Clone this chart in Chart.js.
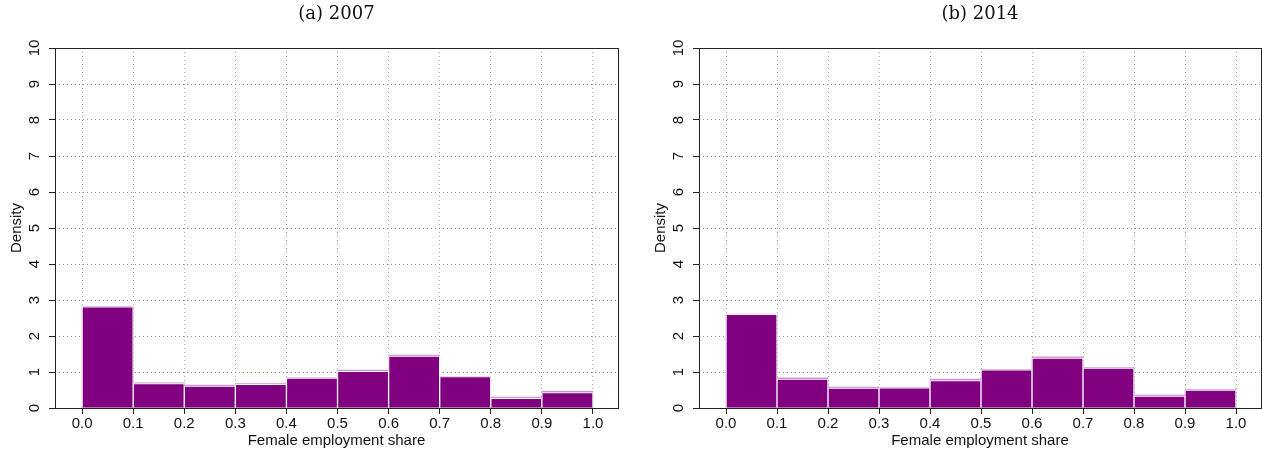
<!DOCTYPE html>
<html>
<head>
<meta charset="utf-8">
<script src="https://cdn.jsdelivr.net/npm/chart.js@4.4.0/dist/chart.umd.min.js"></script>
<style>
body { margin: 0; background: #fff; }
canvas { position: absolute; top: 0; }
#canvas-a { left: 0; }
#canvas-b { left: 631px; }
</style>
</head>
<body>
<canvas id="canvas-a" width="631" height="454"></canvas>
<canvas id="canvas-b" width="631" height="454"></canvas>
<script>
// histogram bins (mid points) and x tick labels
var binMids = [0.05, 0.15, 0.25, 0.35, 0.45, 0.55, 0.65, 0.75, 0.85, 0.95];
var xTicks = [0.0, 0.1, 0.2, 0.3, 0.4, 0.5, 0.6, 0.7, 0.8, 0.9, 1.0];
var yTicks = [0, 1, 2, 3, 4, 5, 6, 7, 8, 9, 10];

// densities
var density2007 = [2.81, 0.68, 0.61, 0.66, 0.83, 1.02, 1.44, 0.87, 0.27, 0.43];
var density2014 = [2.60, 0.80, 0.55, 0.56, 0.76, 1.06, 1.39, 1.11, 0.33, 0.50];
// the lighter outline showing just above some bars
var outline2007 = [2.82, 0.70, 0.64, 0.68, 0.84, 1.05, 1.47, 0.88, 0.30, 0.47];
var outline2014 = [2.61, 0.84, 0.58, 0.57, 0.80, 1.07, 1.42, 1.12, 0.36, 0.51];

var purple = '#800080';
var lightPurple = '#c79ac7';

var boxPlugin = {
    id: 'box',
    afterDraw: function(chart) {
        var ctx = chart.ctx;
        var a = chart.chartArea;
        var y = chart.scales.y;
        ctx.save();
        ctx.strokeStyle = '#222';
        ctx.lineWidth = 1;
        ctx.strokeRect(Math.round(a.left) + 0.5, Math.round(a.top) + 0.5,
            Math.round(a.right - a.left), Math.round(a.bottom - a.top));

        // y tick labels, rotated like R does
        ctx.fillStyle = '#111';
        ctx.font = '15px "Liberation Sans", Arial, sans-serif';
        ctx.textAlign = 'center';
        ctx.textBaseline = 'middle';
        yTicks.forEach(function(v) {
            ctx.save();
            ctx.translate(a.left - 20, y.getPixelForValue(v));
            ctx.rotate(-Math.PI / 2);
            ctx.fillText(String(v), 0, 0);
            ctx.restore();
        });
        ctx.save();
        ctx.translate(a.left - 38, (a.top + a.bottom) / 2);
        ctx.rotate(-Math.PI / 2);
        ctx.fillText('Density', 0, 0);
        ctx.restore();

        ctx.fillText('Female employment share', (a.left + a.right) / 2, 441);

        ctx.font = '18px "DejaVu Serif", serif';
        ctx.fillText(chart.options.plugins.box.title, (a.left + a.right) / 2, 14);
        ctx.restore();
    }
};

function makeHist(el, title, values, outline, pad) {
    return new Chart(document.getElementById(el), {
        type: 'bar',
        data: {
            datasets: [{
                data: binMids.map(function(m, i) { return { x: m, y: values[i] }; }),
                backgroundColor: purple,
                borderColor: '#ffffff',
                borderWidth: 1,
                grouped: false,
                order: 1
            }, {
                data: binMids.map(function(m, i) { return { x: m, y: outline[i] }; }),
                backgroundColor: lightPurple,
                borderWidth: 0,
                grouped: false,
                order: 2
            }]
        },
        options: {
            responsive: false,
            animation: false,
            devicePixelRatio: 1,
            barPercentage: 1,
            categoryPercentage: 1,
            layout: { padding: pad },
            plugins: {
                legend: { display: false },
                tooltip: { enabled: false },
                box: { title: title }
            },
            scales: {
                x: {
                    type: 'linear',
                    offset: false,
                    min: -0.053,
                    max: 1.049,
                    afterBuildTicks: function(scale) {
                        scale.ticks = xTicks.map(function(v) { return { value: v }; });
                    },
                    afterFit: function(scale) { scale.height = 46; },
                    border: { display: false, dash: [1, 3] },
                    grid: {
                        offset: false,
                        color: '#a8a8a8',
                        tickColor: '#222',
                        tickBorderDash: [],
                        tickLength: 6
                    },
                    ticks: {
                        padding: 1,
                        color: '#111',
                        font: { family: '"Liberation Sans", Arial, sans-serif', size: 15 },
                        maxRotation: 0,
                        callback: function(v) { return Number(v).toFixed(1); }
                    }
                },
                y: {
                    min: 0,
                    max: 10,
                    afterBuildTicks: function(scale) {
                        scale.ticks = yTicks.map(function(v) { return { value: v }; });
                    },
                    afterFit: function(scale) { scale.width = 55; },
                    border: { display: false, dash: [1, 3] },
                    grid: {
                        color: '#909090',
                        tickColor: '#222',
                        tickBorderDash: [],
                        tickLength: 6
                    },
                    ticks: { display: false }
                }
            }
        },
        plugins: [boxPlugin]
    });
}

makeHist('canvas-a', '(a) 2007', density2007, outline2007, { left: 0, right: 13, top: 48, bottom: 0 });
makeHist('canvas-b', '(b) 2014', density2014, outline2014, { left: 13, right: 1, top: 48, bottom: 0 });
</script>
</body>
</html>
